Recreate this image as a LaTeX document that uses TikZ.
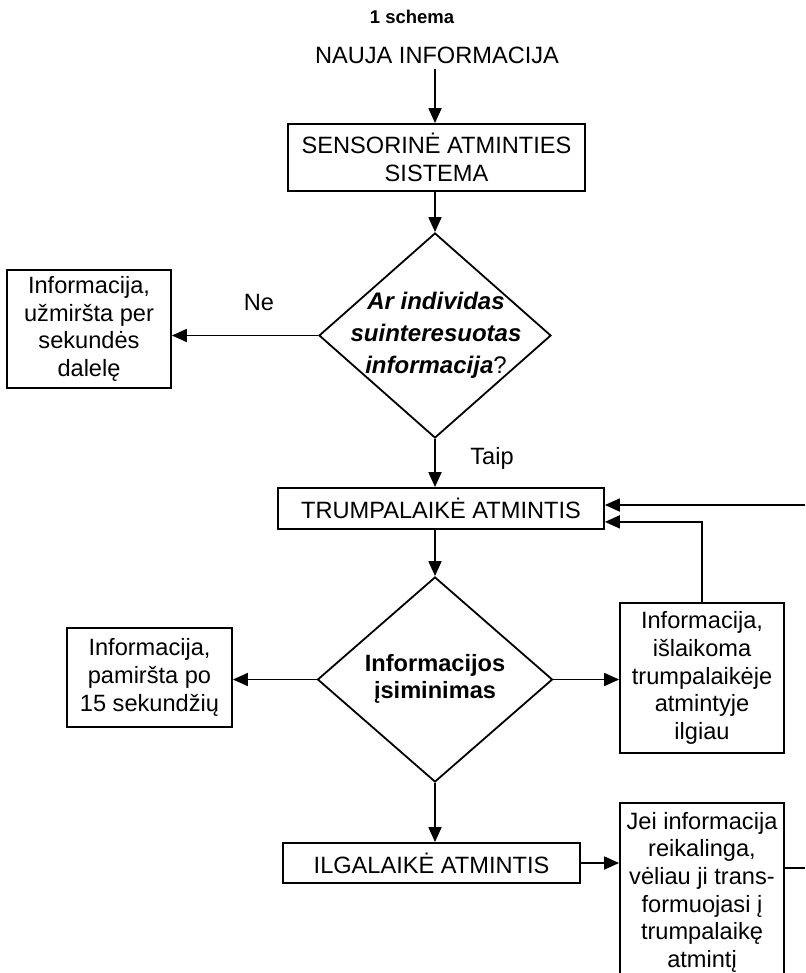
\documentclass[tikz,border=0pt]{standalone}
\usepackage{fontspec}
\setmainfont{Liberation Sans}
\usetikzlibrary{shapes.geometric,arrows.meta,calc}
\begin{document}
\begin{tikzpicture}[x=1pt,y=-1pt,
  every node/.style={font=\fontsize{23.6}{27.6}\selectfont, inner sep=0pt},
  box/.style={draw, line width=1.8pt, rectangle, align=center},
  dia/.style={draw, diamond, line width=1.8pt, inner sep=0pt},
  arr/.style={line width=1.8pt, -{Triangle[length=15pt,width=13pt]}},
  ln/.style={line width=1.8pt},
  boldtxt/.style={font=\bfseries\fontsize{23.6}{27.6}\selectfont, align=center},
  bitxt/.style={font=\bfseries\itshape\fontsize{24}{32}\selectfont, align=center}
]
\useasboundingbox (0,0) rectangle (805,973);
\clip (0,0) rectangle (805,973);

\node[font=\bfseries\fontsize{18.5}{22}\selectfont] (title) at (412,17) {1 schema};
\node (nauja) at (437,55) {NAUJA INFORMACIJA};
\node[box, minimum width=297pt, minimum height=67pt] (b1) at (436.5,157.5) {SENSORINĖ ATMINTIES\\SISTEMA};
\node[dia, minimum width=232pt, minimum height=205pt] (d1) at (435,335.5) {};
\node[bitxt] (d1t) at (436,335) {Ar individas\\suinteresuotas\\informacija{\upshape\mdseries ?}};
\node[box, minimum width=164pt, minimum height=118pt] (lb1) at (89,329) {Informacija,\\užmiršta per\\sekundės\\dalelę};
\node (ne) at (259,302) {Ne};
\node (taip) at (492,458) {Taip};
\node[box, minimum width=326pt, minimum height=41pt] (tr) at (441,508.5) {TRUMPALAIKĖ ATMINTIS};
\node[dia, minimum width=235pt, minimum height=205pt] (d2) at (435,679.5) {};
\node[boldtxt] (d2t) at (435,679) {Informacijos\\įsiminimas};
\node[box, minimum width=165pt, minimum height=99pt] (lb2) at (149.5,677.5) {Informacija,\\pamiršta po\\15 sekundžių};
\node[box, minimum width=164pt, minimum height=150pt] (rb) at (702,678) {Informacija,\\išlaikoma\\trumpalaikėje\\atmintyje\\ilgiau};
\node[box, minimum width=297pt, minimum height=40pt] (ilg) at (431.5,863) {ILGALAIKĖ ATMINTIS};
\node[box, minimum width=164pt, minimum height=200pt, anchor=north] (br) at (702,802) {};
\node[align=center, anchor=north] (brt) at (702,812) {Jei informacija\\reikalinga,\\vėliau ji trans-\\formuojasi į\\trumpalaikę\\atmintį};

\coordinate (r1) at (805,505);
\coordinate (r2) at (805,868);

\draw[arr] ([yshift=-5pt]nauja.south -| d1.north) -- (b1.north -| d1.north);
\draw[arr] (b1.south -| d1.north) -- (d1.north);
\draw[arr] (d1.west) -- (d1.west -| lb1.east);
\draw[arr] (d1.south) -- (d1.south |- tr.north);
\draw[arr] (tr.south -| d2.north) -- (d2.north);
\draw[arr] (d2.west) -- (d2.west -| lb2.east);
\draw[arr] (d2.east) -- (d2.east -| rb.west);
\draw[arr] (rb.north) |- ([yshift=8pt]tr.south east);
\draw[arr] (r1) -- (r1 -| tr.east);
\draw[arr] (d2.south) -- (d2.south |- ilg.north);
\draw[arr] (ilg.east) -- (ilg.east -| br.west);
\draw[ln] (br.east |- r2) -- (r2);
\end{tikzpicture}
\end{document}
